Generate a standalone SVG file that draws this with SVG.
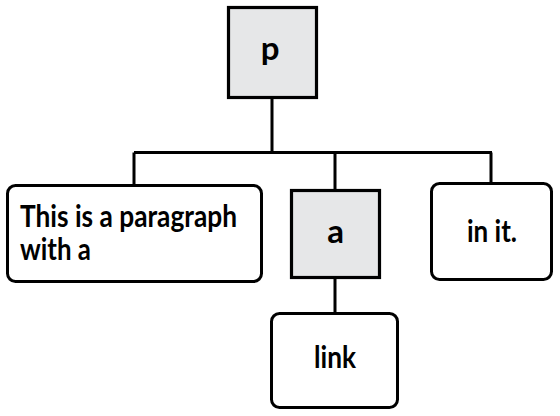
<svg xmlns="http://www.w3.org/2000/svg" width="560" height="416" viewBox="0 0 560 416">
<style>
.box{fill:#ffffff;stroke:#000;stroke-width:3}
.el{fill:#e6e7e8;stroke:#000;stroke-width:3.2}
.wire{fill:none;stroke:#000;stroke-width:3}
text{font-family:Lato,"Open Sans",sans-serif;font-weight:bold;font-size:29.5px;fill:#000}
.c{text-anchor:middle}
.big{font-size:33px}
</style>
<rect width="560" height="416" fill="#fff"/>
<g id="connectors">
<path class="wire" d="M272 98V152.5M134 152.5H492M134 152.5V185M335 152.5V189M491 152.5V183M335 279V312"/>
</g>
<g id="node-p">
<rect class="el" x="228.5" y="7.5" width="88" height="90"/>
<text class="c big" x="270" y="60">p</text>
</g>
<g id="node-text1">
<rect class="box" x="7.5" y="185.5" width="254" height="96" rx="8"/>
<text x="20" y="227" textLength="217" lengthAdjust="spacingAndGlyphs">This is a paragraph</text>
<text x="20" y="260" textLength="71" lengthAdjust="spacingAndGlyphs">with a</text>
</g>
<g id="node-a">
<rect class="el" x="291.5" y="190.5" width="88" height="87"/>
<text class="c big" x="335.5" y="243">a</text>
</g>
<g id="node-text2">
<rect class="box" x="431.5" y="183.5" width="120" height="96" rx="8"/>
<text class="c" x="492" y="242" textLength="50" lengthAdjust="spacingAndGlyphs">in it.</text>
</g>
<g id="node-link">
<rect class="box" x="271.5" y="313.5" width="126" height="94" rx="8"/>
<text class="c" x="335" y="368" textLength="42" lengthAdjust="spacingAndGlyphs">link</text>
</g>
</svg>
